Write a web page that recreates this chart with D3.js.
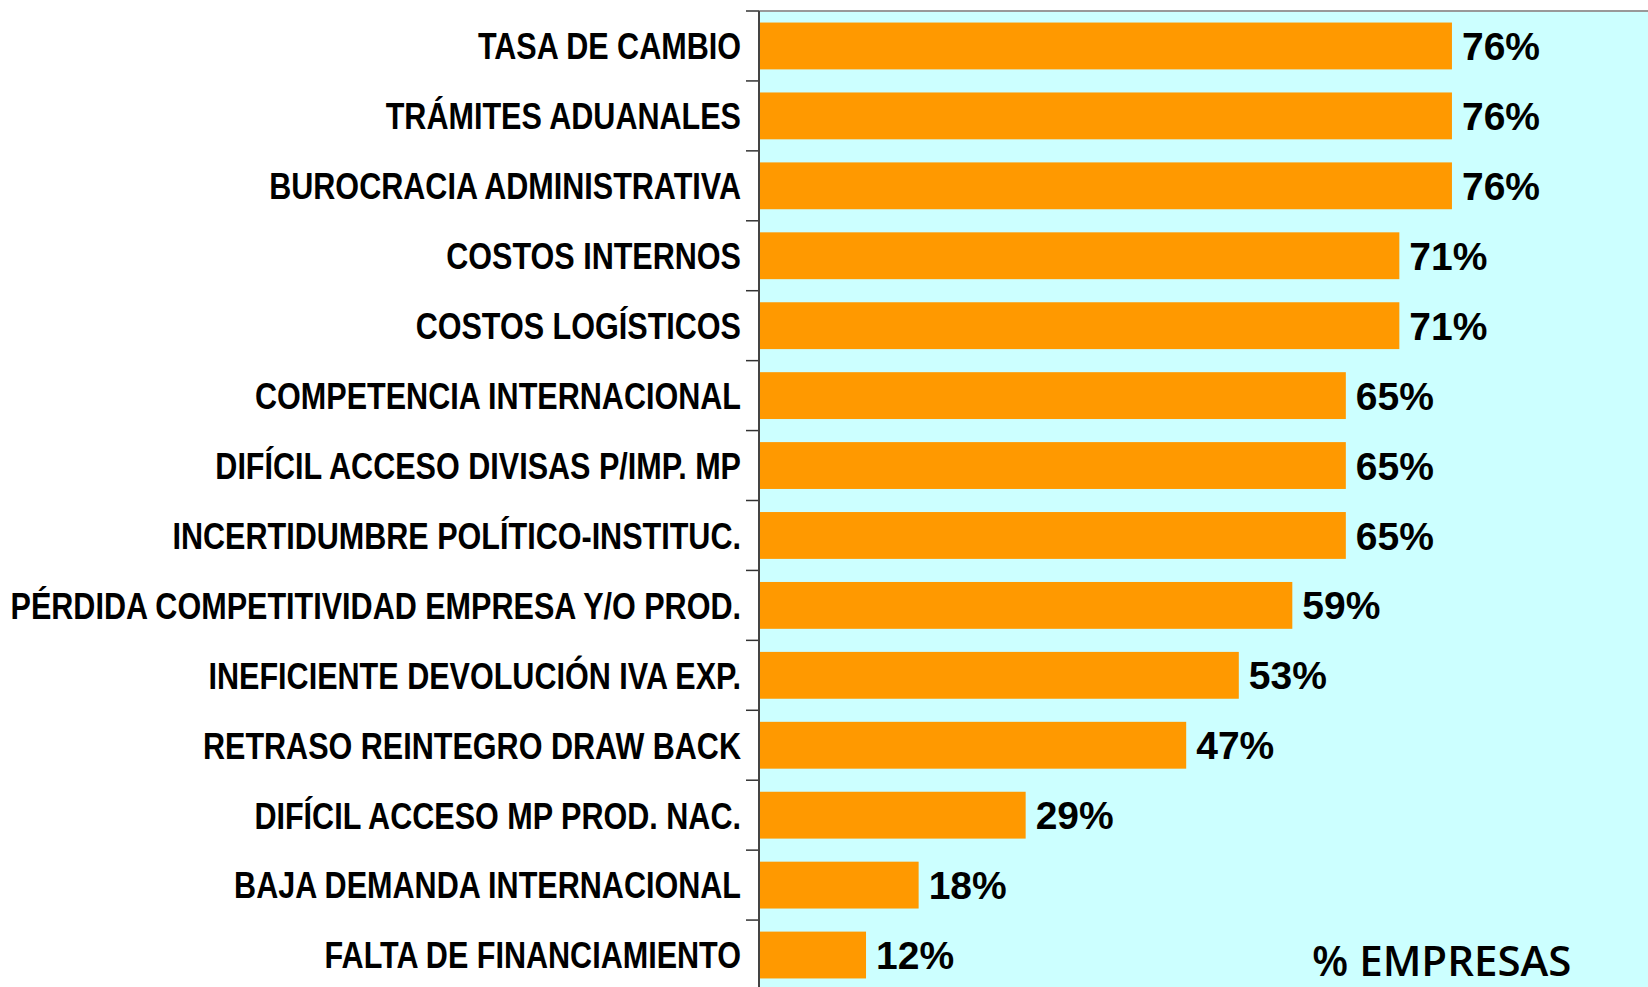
<!DOCTYPE html>
<html>
<head>
<meta charset="utf-8">
<script src="https://cdn.jsdelivr.net/npm/d3@7"></script>
<style>
  body { margin: 0; background: #fff; overflow: hidden; }
</style>
</head>
<body>
<div id="chart"></div>
<script>
// obstaculos a la exportacion - % empresas

var categories = [
  "TASA DE CAMBIO",
  "TRÁMITES ADUANALES",
  "BUROCRACIA ADMINISTRATIVA",
  "COSTOS INTERNOS",
  "COSTOS LOGÍSTICOS",
  "COMPETENCIA INTERNACIONAL",
  "DIFÍCIL ACCESO DIVISAS P/IMP. MP",
  "INCERTIDUMBRE POLÍTICO-INSTITUC.",
  "PÉRDIDA COMPETITIVIDAD EMPRESA Y/O PROD.",
  "INEFICIENTE DEVOLUCIÓN IVA EXP.",
  "RETRASO REINTEGRO DRAW BACK",
  "DIFÍCIL ACCESO MP PROD. NAC.",
  "BAJA DEMANDA INTERNACIONAL",
  "FALTA DE FINANCIAMIENTO"
];

// % of firms
var values = [76.4, 76.4, 76.4, 70.6, 70.6, 64.7, 64.7, 64.7, 58.8, 52.9, 47.1, 29.4, 17.6, 11.8];

var axisTitle = "% EMPRESAS";

var width = 1648,
    height = 987;

var margin = {top: 11, left: 759};
var plotH = 979;

var svg = d3.select("#chart").append("svg")
    .attr("width", width)
    .attr("height", height);

var x = d3.scaleLinear()
    .domain([0, 100])
    .range([margin.left, margin.left + 907]);

var y = d3.scaleBand()
    .domain(categories)
    .range([margin.top, margin.top + plotH])
    .paddingInner(0.33)
    .paddingOuter(0.165);

// plot background
svg.append("rect")
    .attr("x", margin.left)
    .attr("y", margin.top)
    .attr("width", width - margin.left)
    .attr("height", plotH)
    .attr("fill", "#CCFFFF");

// top border
svg.append("line")
    .attr("x1", margin.left).attr("x2", width)
    .attr("y1", margin.top).attr("y2", margin.top)
    .attr("stroke", "#999")
    .attr("stroke-width", 2);

// bars
svg.selectAll("rect.bar")
    .data(values)
    .enter().append("rect")
    .attr("class", "bar")
    .attr("x", x(0))
    .attr("y", function(d, i) { return y(categories[i]); })
    .attr("width", function(d) { return x(d) - x(0); })
    .attr("height", y.bandwidth())
    .attr("fill", "#FF9900");

// value labels
svg.selectAll("text.val")
    .data(values)
    .enter().append("text")
    .attr("class", "val")
    .attr("x", function(d) { return x(d) + 10; })
    .attr("y", function(d, i) { return y(categories[i]) + y.bandwidth() / 2; })
    .attr("dy", "0.36em")
    .attr("font-family", "'Liberation Sans', Arial, sans-serif")
    .attr("font-weight", "bold")
    .attr("font-size", 39)
    .attr("fill", "#000")
    .text(function(d) { return Math.round(d) + "%"; });

// category axis, ticks between bands
var ticksY = d3.range(categories.length + 1).map(function(i) { return margin.top + i * plotH / categories.length; });

svg.selectAll("line.tick")
    .data(ticksY)
    .enter().append("line")
    .attr("class", "tick")
    .attr("x1", margin.left - 13).attr("x2", margin.left)
    .attr("y1", function(d) { return d; })
    .attr("y2", function(d) { return d; })
    .attr("stroke", "#333")
    .attr("stroke-width", 1.5);

svg.append("line")
    .attr("x1", margin.left).attr("x2", margin.left)
    .attr("y1", margin.top).attr("y2", height)
    .attr("stroke", "#444")
    .attr("stroke-width", 2);

// no narrow font installed -> squeeze Liberation Sans bold
svg.selectAll("text.cat")
    .data(categories)
    .enter().append("text")
    .attr("class", "cat")
    .attr("transform", function(d) {
      return "translate(" + (margin.left - 18) + "," + (y(d) + y.bandwidth() / 2) + ") scale(0.826,1)";
    })
    .attr("dy", "0.36em")
    .attr("text-anchor", "end")
    .attr("font-family", "'Liberation Sans', Arial, sans-serif")
    .attr("font-weight", "bold")
    .attr("font-size", 37)
    .attr("fill", "#000")
    .text(function(d) { return d; });

// axis title
svg.append("text")
    .attr("x", 1312)
    .attr("y", 976)
    .attr("font-family", "'Open Sans', 'DejaVu Sans', sans-serif")
    .attr("font-weight", 600)
    .attr("font-size", 42)
    .attr("fill", "#000")
    .text(axisTitle);
</script>
</body>
</html>
